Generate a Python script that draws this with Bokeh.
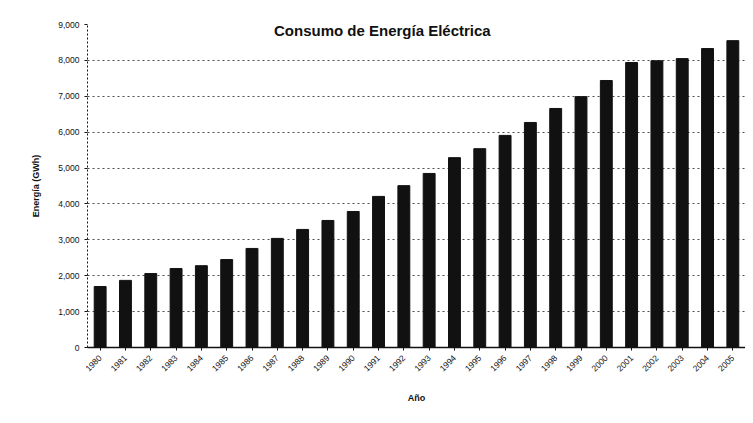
from bokeh.plotting import figure
from bokeh.models import Label, FixedTicker, NumeralTickFormatter, Range1d
from bokeh.embed import file_html
from bokeh.resources import INLINE
import math

years = [str(y) for y in range(1980, 2006)]
consumo = [1700, 1870, 2060, 2200, 2280, 2450, 2760, 3040, 3290, 3540, 3790, 4210, 4510,
           4850, 5290, 5540, 5910, 6270, 6660, 6990, 7440, 7940, 7990, 8050, 8330, 8550]
y_ticks = [0, 1000, 2000, 3000, 4000, 5000, 6000, 7000, 8000, 9000]

title_text = "Consumo de Energía Eléctrica"
x_title = "Año"
y_title = "Energía (GWh)"

p = figure(x_range=years, y_range=Range1d(0, 9000), width=745, height=415,
           output_backend="svg", toolbar_location=None,
           min_border_left=87, min_border_right=0, min_border_top=24, min_border_bottom=68)

p.vbar(x=years, top=consumo, width=0.47, color="#111111")

p.yaxis.ticker = FixedTicker(ticks=y_ticks)
p.yaxis.formatter = NumeralTickFormatter(format="0,0")
p.xaxis.major_label_orientation = math.pi / 4
p.xaxis.axis_label = x_title
p.yaxis.axis_label = y_title

for ax in (p.xaxis[0], p.yaxis[0]):
    ax.major_label_text_font = "Liberation Sans"
    ax.major_label_text_font_size = "8.5px"
    ax.major_label_text_color = "#111111"
    ax.axis_label_text_font = "Liberation Sans"
    ax.axis_label_text_font_size = "9px"
    ax.axis_label_text_font_style = "bold"
    ax.axis_label_text_color = "#111111"
    ax.axis_line_color = "#111111"
    ax.major_tick_line_color = "#111111"
    ax.major_tick_in = 0
    ax.major_tick_out = 3
    ax.minor_tick_line_color = None

p.yaxis.axis_line_dash = "2 2"
p.xaxis.axis_line_width = 1.5
p.yaxis.axis_label_standoff = 14
p.xaxis.axis_label_standoff = 16
p.xaxis.major_label_standoff = 6

p.xgrid.grid_line_color = None
p.ygrid.grid_line_color = "#222222"
p.ygrid.grid_line_dash = "2 3"
p.ygrid.grid_line_alpha = 0.8
p.outline_line_color = None
p.background_fill_color = "white"
p.border_fill_color = "white"

p.add_layout(Label(x=11.65, y=8830, text=title_text,
                   text_font="Liberation Sans", text_font_size="15px",
                   text_font_style="bold", text_align="center", text_baseline="middle",
                   text_color="#111111", background_fill_color="white"))

open("out.html", "w").write(file_html(p, INLINE))
